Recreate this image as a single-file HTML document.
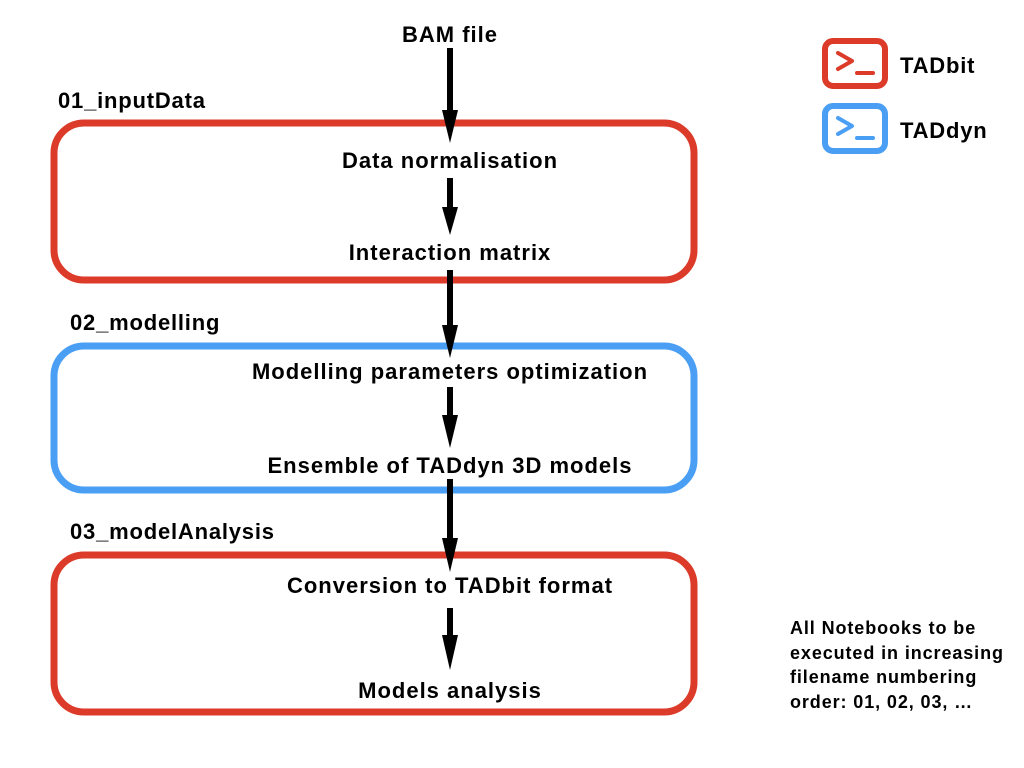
<!DOCTYPE html>
<html><head><meta charset="utf-8"><style>
html,body{margin:0;padding:0;background:#fff;}
svg{display:block;}
text{font-family:"Liberation Sans",Arial,sans-serif;font-weight:bold;fill:#000;}
</style></head><body>
<svg width="1024" height="768" viewBox="0 0 1024 768" xmlns="http://www.w3.org/2000/svg">
<!-- boxes -->
<rect x="54" y="123" width="640" height="157" rx="30" fill="none" stroke="#dc3b2a" stroke-width="7"/>
<rect x="54" y="346" width="640" height="144" rx="30" fill="none" stroke="#4a9ff5" stroke-width="7"/>
<rect x="54" y="555" width="640" height="157" rx="30" fill="none" stroke="#dc3b2a" stroke-width="7"/>
<!-- arrows -->
<g fill="#000">
<rect x="447" y="48" width="6" height="63"/><polygon points="442,110 458,110 450,143"/>
<rect x="447" y="178" width="6" height="30"/><polygon points="442,207 458,207 450,235"/>
<rect x="447" y="270" width="6" height="56"/><polygon points="442,325 458,325 450,358"/>
<rect x="447" y="387" width="6" height="29"/><polygon points="442,415 458,415 450,448"/>
<rect x="447" y="479" width="6" height="60"/><polygon points="442,538 458,538 450,572"/>
<rect x="447" y="608" width="6" height="28"/><polygon points="442,635 458,635 450,670"/>
</g>
<!-- texts -->
<g font-size="22" letter-spacing="1" text-anchor="middle">
<text x="450" y="42">BAM file</text>
<text x="450" y="168">Data normalisation</text>
<text x="450" y="260">Interaction matrix</text>
<text x="450" y="379">Modelling parameters optimization</text>
<text x="450" y="473">Ensemble of TADdyn 3D models</text>
<text x="450" y="593">Conversion to TADbit format</text>
<text x="450" y="698">Models analysis</text>
</g>
<g font-size="22" letter-spacing="0.8">
<text x="58" y="108">01_inputData</text>
<text x="70" y="330">02_modelling</text>
<text x="70" y="539">03_modelAnalysis</text>
</g>
<!-- legend -->
<rect x="825" y="41" width="60" height="45" rx="8" fill="none" stroke="#dc3b2a" stroke-width="6"/>
<polyline points="838,53 852,61 838,69" fill="none" stroke="#dc3b2a" stroke-width="4" stroke-linecap="round" stroke-linejoin="round"/>
<line x1="857" y1="73" x2="873" y2="73" stroke="#dc3b2a" stroke-width="4" stroke-linecap="round"/>
<rect x="825" y="106" width="60" height="45" rx="8" fill="none" stroke="#4a9ff5" stroke-width="6"/>
<polyline points="838,118 852,126 838,134" fill="none" stroke="#4a9ff5" stroke-width="4" stroke-linecap="round" stroke-linejoin="round"/>
<line x1="857" y1="138" x2="873" y2="138" stroke="#4a9ff5" stroke-width="4" stroke-linecap="round"/>
<text x="900" y="73" font-size="22" letter-spacing="0.8">TADbit</text>
<text x="900" y="138" font-size="22" letter-spacing="0.8">TADdyn</text>
<g font-size="18" letter-spacing="0.9">
<text x="790" y="634">All Notebooks to be</text>
<text x="790" y="659">executed in increasing</text>
<text x="790" y="683">filename numbering</text>
<text x="790" y="708">order: 01, 02, 03, …</text>
</g>
</svg>
</body></html>
